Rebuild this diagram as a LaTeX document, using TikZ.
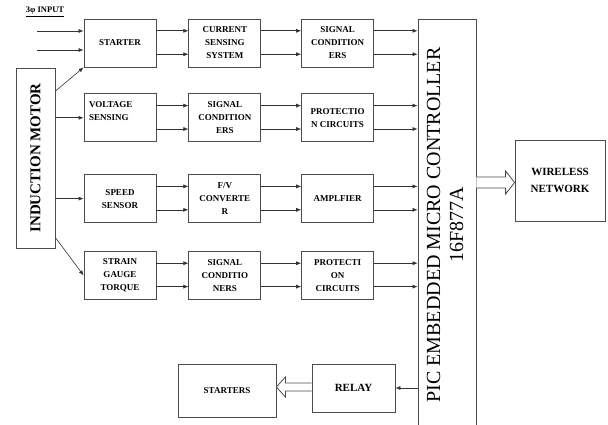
\documentclass[tikz,border=0pt]{standalone}
\usepackage{fontspec}
\setmainfont{Liberation Serif}
\usetikzlibrary{arrows.meta, positioning, calc}
\tikzstyle{block}  = [rectangle, minimum width=72pt, minimum height=48pt, inner sep=1pt,
                      align=center, draw=black!70, line width=0.8pt,
                      font=\fontsize{9}{13}\selectfont\bfseries]
\tikzstyle{motorbox} = [rectangle, minimum width=39pt, minimum height=180pt, draw=black!70,
                      line width=0.8pt, font=\fontsize{15}{17}\selectfont\bfseries]
\tikzstyle{picbox} = [rectangle, minimum width=58pt, minimum height=412pt, draw=black!70,
                      line width=0.8pt, font=\fontsize{20}{23}\selectfont]
\tikzstyle{arrow}  = [-{Latex[length=5pt,width=4pt]}, line width=0.6pt, draw=black!80]
\tikzstyle{hollow} = [line width=0.8pt, draw=black!70, fill=white, line join=miter]

\begin{document}
\begin{tikzpicture}[x=1pt, y=-1pt, node distance=26pt]
  \useasboundingbox (0,0) rectangle (608,425);
  \node (title)   [font=\fontsize{8.5}{10}\selectfont\bfseries] at (45,12) {\underline{3φ INPUT}};
  \node (motor)   [motorbox] at (35.5,158) {\rotatebox{90}{INDUCTION MOTOR}};
  \node (pic)     [picbox] at (447,225)
    {\rotatebox{90}{\begin{tabular}{@{}c@{}}PIC EMBEDDED MICRO CONTROLLER\\16F877A\end{tabular}}};

  \node (starter) [block] at (120,43)            {STARTER};
  \node (curr)    [block, right=32pt of starter] {CURRENT\\SENSING\\SYSTEM};
  \node (sigA)    [block, right=40pt of curr]    {SIGNAL\\CONDITION\\ERS};

  \node (volt)    [block, below=26pt of starter, align=left, text width=62pt] {VOLTAGE\\SENSING\\~};
  \node (sigB)    [block, right=32pt of volt]    {SIGNAL\\CONDITION\\ERS};
  \node (protA)   [block, right=40pt of sigB]    {PROTECTIO\\N CIRCUITS};

  \node (speed)   [block, below=32pt of volt]    {SPEED\\SENSOR};
  \node (fv)      [block, right=32pt of speed]   {F/V\\CONVERTE\\R};
  \node (amp)     [block, right=40pt of fv]      {AMPLFIER};

  \node (strain)  [block, below=28pt of speed]   {STRAIN\\GAUGE\\TORQUE};
  \node (sigC)    [block, right=32pt of strain]  {SIGNAL\\CONDITIO\\NERS};
  \node (protB)   [block, right=40pt of sigC]    {PROTECTI\\ON\\CIRCUITS};

  \node (wl)      [block, minimum width=90pt, minimum height=81pt,
                   font=\fontsize{11}{17}\selectfont\bfseries] at (560,180.5) {WIRELESS\\NETWORK};
  \node (relay)   [block, minimum width=83pt, font=\fontsize{11}{13}\selectfont\bfseries]
                   at (353.5,388) {RELAY};
  \node (starters) [block, minimum width=98pt, minimum height=53pt] at (227,390.5) {STARTERS};

  \coordinate (inA) at (37,31);
  \coordinate (inB) at (37,50);
  \draw [arrow] (inA) -- (inA -| starter.west);
  \draw [arrow] (inB) -- (inB -| starter.west);

  \draw [arrow] ($(motor.north east)!.13!(motor.south east)$) -- (starter.south west);
  \draw [arrow] (volt.west -| motor.east)  -- (volt.west);
  \draw [arrow] (speed.west -| motor.east) -- (speed.west);
  \draw [arrow] ($(motor.north east)!.94!(motor.south east)$) -- (strain.west);

  \foreach \a/\b in {starter/curr, curr/sigA, sigA/pic, volt/sigB, sigB/protA, protA/pic,
                     speed/fv, fv/amp, amp/pic, strain/sigC, sigC/protB, protB/pic} {
    \coordinate (u) at ($(\a.north east)!.25!(\a.south east)$);
    \coordinate (l) at ($(\a.north east)!.73!(\a.south east)$);
    \draw [arrow] (u) -- (u -| \b.west);
    \draw [arrow] (l) -- (l -| \b.west);
  }

  \draw [hollow] let \p1 = (wl.west -| pic.east), \p2 = ($(wl.west)+(0,2)$) in
    (\x1,\y2+5.5pt) -- (\x2-9pt,\y2+5.5pt) -- (\x2-9pt,\y2+11.5pt) -- (\x2,\y2)
    -- (\x2-9pt,\y2-11.5pt) -- (\x2-9pt,\y2-5.5pt) -- (\x1,\y2-5.5pt);
  \draw [arrow] (relay.east -| pic.west) -- (relay.east);
  \draw [hollow] let \p1 = ($(relay.west)+(0,-1)$), \p2 = (starters.east) in
    (\x1,\y1+4pt) -- (\x2+9pt,\y1+4pt) -- (\x2+9pt,\y1+10pt) -- (\x2,\y1)
    -- (\x2+9pt,\y1-10pt) -- (\x2+9pt,\y1-4pt) -- (\x1,\y1-4pt);
\end{tikzpicture}
\end{document}
